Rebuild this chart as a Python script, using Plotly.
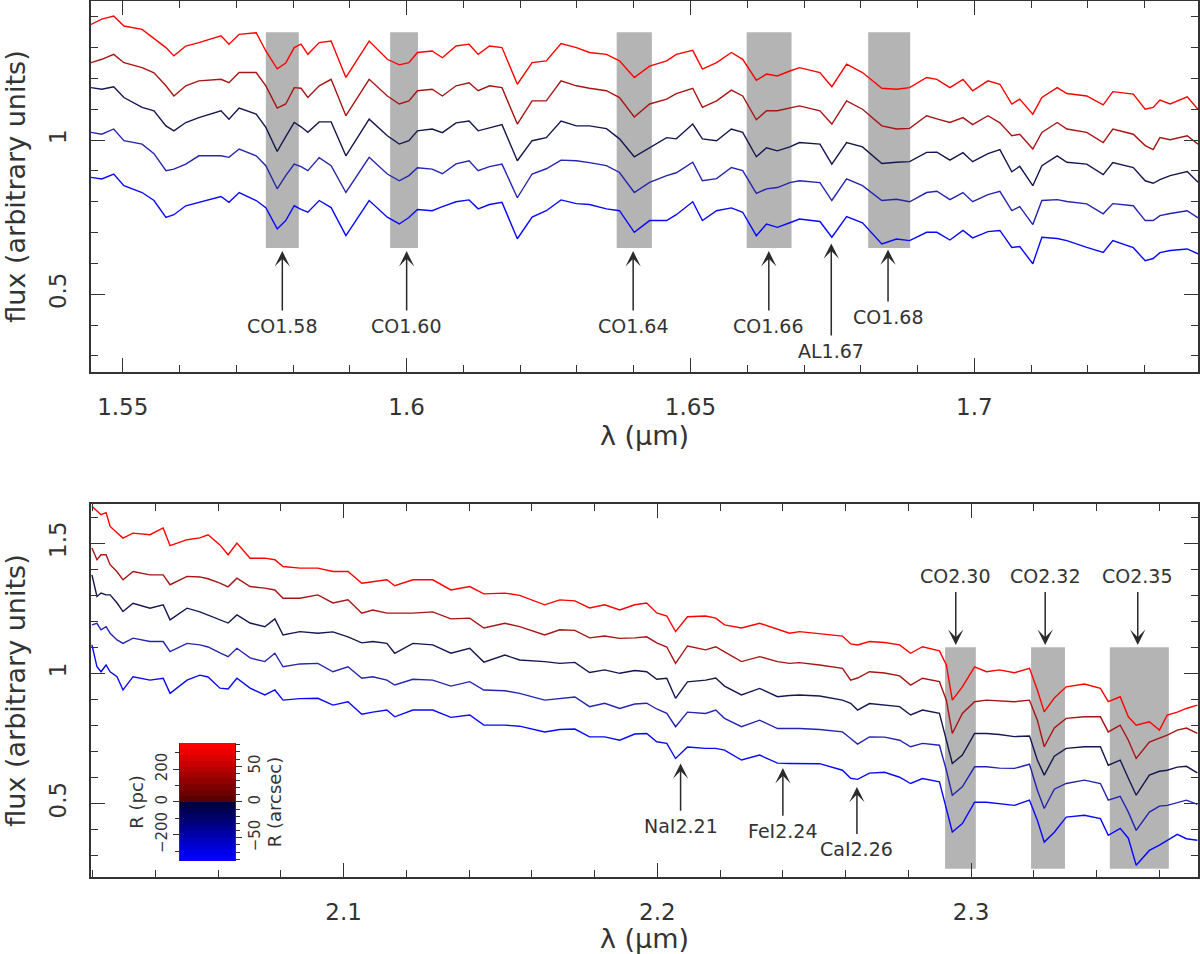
import plotly.graph_objects as go

FONT = "DejaVu Sans"
INK = "#333333"
ARROW = "#2a2a2a"
BAND_GRAY = "#b4b4b4"

# ---------------- H band (top panel) ----------------
wl_h = [1.5444, 1.5463, 1.5484, 1.5502, 1.5534, 1.5555, 1.5576, 1.5590, 1.5611, 1.5634,
        1.5673, 1.5687, 1.5705, 1.5735, 1.5752, 1.5772, 1.5787, 1.5802, 1.5814, 1.5826,
        1.5846, 1.5867, 1.5893, 1.5934, 1.5966, 1.5987, 1.6004, 1.6019, 1.6045, 1.6063,
        1.6087, 1.6110, 1.6126, 1.6146, 1.6168, 1.6195, 1.6221, 1.6246, 1.6272, 1.6299,
        1.6322, 1.6352, 1.6375, 1.6401, 1.6428, 1.6458, 1.6475, 1.6504, 1.6521, 1.6546,
        1.6572, 1.6592, 1.6616, 1.6634, 1.6653, 1.6675, 1.6692, 1.6728, 1.6749, 1.6775,
        1.6803, 1.6837, 1.6863, 1.6886, 1.6916, 1.6934, 1.6957, 1.6980, 1.6997, 1.7024,
        1.7045, 1.7066, 1.7080, 1.7103, 1.7119, 1.7146, 1.7163, 1.7198, 1.7227, 1.7244,
        1.7280, 1.7301, 1.7315, 1.7327, 1.7345, 1.7375, 1.7394]

h_red = [1.375, 1.392, 1.402, 1.370, 1.359, 1.331, 1.300, 1.273, 1.305, 1.316,
         1.338, 1.311, 1.343, 1.348, 1.289, 1.231, 1.250, 1.300, 1.311, 1.278,
         1.316, 1.321, 1.203, 1.321, 1.262, 1.244, 1.251, 1.284, 1.289, 1.267,
         1.305, 1.311, 1.278, 1.305, 1.300, 1.181, 1.251, 1.257, 1.313, 1.300,
         1.284, 1.278, 1.257, 1.203, 1.240, 1.257, 1.278, 1.291, 1.230, 1.251,
         1.284, 1.262, 1.194, 1.214, 1.208, 1.224, 1.235, 1.219, 1.173, 1.246,
         1.219, 1.168, 1.165, 1.170, 1.203, 1.197, 1.170, 1.197, 1.160, 1.192,
         1.181, 1.117, 1.133, 1.084, 1.138, 1.170, 1.151, 1.143, 1.114, 1.157,
         1.149, 1.100, 1.106, 1.130, 1.117, 1.140, 1.100]

h_darkred = [1.251, 1.262, 1.278, 1.251, 1.235, 1.218, 1.176, 1.143, 1.176, 1.192,
             1.197, 1.186, 1.219, 1.219, 1.176, 1.104, 1.117, 1.170, 1.168, 1.138,
             1.176, 1.197, 1.079, 1.197, 1.143, 1.117, 1.127, 1.160, 1.165, 1.143,
             1.176, 1.186, 1.160, 1.176, 1.170, 1.052, 1.127, 1.127, 1.192, 1.176,
             1.168, 1.160, 1.138, 1.075, 1.117, 1.133, 1.151, 1.168, 1.106, 1.127,
             1.162, 1.143, 1.066, 1.095, 1.095, 1.103, 1.111, 1.095, 1.052, 1.127,
             1.100, 1.046, 1.036, 1.038, 1.079, 1.069, 1.057, 1.073, 1.050, 1.079,
             1.056, 1.014, 1.019, 0.971, 1.025, 1.057, 1.036, 1.025, 0.992, 1.036,
             1.019, 0.982, 0.969, 1.008, 1.001, 1.014, 0.987]

h_navy = [1.170, 1.165, 1.173, 1.138, 1.106, 1.095, 1.046, 1.030, 1.057, 1.073,
          1.095, 1.068, 1.104, 1.084, 1.041, 0.963, 1.011, 1.057, 1.043, 1.025,
          1.059, 1.059, 0.949, 1.068, 1.014, 0.987, 0.998, 1.030, 1.036, 1.024,
          1.056, 1.062, 1.030, 1.040, 1.050, 0.933, 0.998, 1.008, 1.062, 1.046,
          1.046, 1.037, 1.004, 0.946, 0.976, 1.008, 1.004, 1.052, 1.004, 0.998,
          1.036, 1.025, 0.946, 0.975, 0.965, 0.978, 0.992, 0.987, 0.922, 0.992,
          0.978, 0.924, 0.928, 0.930, 0.960, 0.961, 0.935, 0.959, 0.930, 0.956,
          0.969, 0.897, 0.915, 0.852, 0.917, 0.949, 0.928, 0.922, 0.888, 0.927,
          0.911, 0.868, 0.860, 0.872, 0.885, 0.898, 0.863]

h_midblue = [1.025, 1.019, 1.036, 0.998, 0.987, 0.956, 0.901, 0.906, 0.922, 0.949,
             0.949, 0.944, 0.971, 0.949, 0.917, 0.842, 0.885, 0.922, 0.914, 0.901,
             0.943, 0.917, 0.830, 0.944, 0.890, 0.868, 0.885, 0.910, 0.906, 0.891,
             0.923, 0.933, 0.901, 0.914, 0.922, 0.813, 0.890, 0.907, 0.935, 0.933,
             0.927, 0.917, 0.895, 0.830, 0.863, 0.885, 0.894, 0.928, 0.868, 0.875,
             0.911, 0.901, 0.827, 0.842, 0.846, 0.862, 0.868, 0.862, 0.804, 0.874,
             0.852, 0.804, 0.808, 0.800, 0.830, 0.834, 0.807, 0.830, 0.800, 0.823,
             0.834, 0.771, 0.784, 0.726, 0.804, 0.807, 0.801, 0.793, 0.761, 0.794,
             0.787, 0.739, 0.739, 0.755, 0.762, 0.771, 0.748]

h_blue = [0.879, 0.874, 0.890, 0.852, 0.830, 0.804, 0.749, 0.758, 0.787, 0.798,
          0.817, 0.798, 0.830, 0.804, 0.781, 0.712, 0.739, 0.787, 0.775, 0.766,
          0.804, 0.781, 0.690, 0.804, 0.750, 0.728, 0.749, 0.775, 0.771, 0.784,
          0.800, 0.806, 0.777, 0.791, 0.798, 0.680, 0.750, 0.771, 0.806, 0.794,
          0.791, 0.777, 0.771, 0.701, 0.739, 0.739, 0.758, 0.800, 0.739, 0.771,
          0.780, 0.766, 0.690, 0.728, 0.717, 0.732, 0.744, 0.736, 0.685, 0.752,
          0.732, 0.663, 0.679, 0.674, 0.701, 0.701, 0.676, 0.707, 0.683, 0.703,
          0.707, 0.652, 0.655, 0.599, 0.685, 0.681, 0.674, 0.652, 0.636, 0.674,
          0.651, 0.609, 0.616, 0.635, 0.642, 0.647, 0.631]

# ---------------- K band (bottom panel) ----------------
wl_k = [2.0198, 2.0214, 2.0227, 2.0243, 2.0256, 2.0278, 2.0297, 2.0329, 2.0383, 2.0425,
        2.0447, 2.0501, 2.0542, 2.0568, 2.0606, 2.0632, 2.0660, 2.0702, 2.0749, 2.0781,
        2.0807, 2.0861, 2.0918, 2.0966, 2.1014, 2.1058, 2.1093, 2.1138, 2.1163, 2.1221,
        2.1284, 2.1342, 2.1402, 2.1447, 2.1514, 2.1561, 2.1641, 2.1689, 2.1737, 2.1784,
        2.1832, 2.1880, 2.1928, 2.1966, 2.1998, 2.2030, 2.2058, 2.2096, 2.2154, 2.2186,
        2.2214, 2.2268, 2.2326, 2.2383, 2.2421, 2.2453, 2.2517, 2.2590, 2.2616, 2.2638,
        2.2676, 2.2724, 2.2772, 2.2807, 2.2845, 2.2899, 2.2921, 2.2940, 2.2972, 2.3011,
        2.3049, 2.3090, 2.3138, 2.3186, 2.3211, 2.3233, 2.3265, 2.3303, 2.3361, 2.3412,
        2.3437, 2.3475, 2.3501, 2.3526, 2.3568, 2.3600, 2.3625, 2.3657, 2.3686, 2.3721]

k_red = [1.641, 1.622, 1.609, 1.617, 1.564, 1.540, 1.519, 1.538, 1.532, 1.558,
         1.490, 1.513, 1.520, 1.532, 1.493, 1.455, 1.500, 1.442, 1.442, 1.436,
         1.410, 1.404, 1.404, 1.391, 1.391, 1.346, 1.352, 1.359, 1.336, 1.359,
         1.359, 1.320, 1.333, 1.305, 1.308, 1.299, 1.263, 1.282, 1.278, 1.251,
         1.263, 1.243, 1.263, 1.270, 1.232, 1.220, 1.160, 1.217, 1.220, 1.212,
         1.186, 1.174, 1.192, 1.170, 1.154, 1.160, 1.151, 1.143, 1.113, 1.109,
         1.122, 1.118, 1.109, 1.077, 1.102, 1.086, 1.032, 0.897, 0.948, 1.025,
         1.006, 1.013, 1.002, 1.019, 0.936, 0.852, 0.905, 0.948, 0.959, 0.942,
         0.891, 0.910, 0.833, 0.801, 0.814, 0.782, 0.840, 0.851, 0.865, 0.878]

k_darkred = [1.481, 1.436, 1.455, 1.455, 1.417, 1.390, 1.359, 1.391, 1.378, 1.378,
             1.340, 1.372, 1.370, 1.363, 1.346, 1.332, 1.365, 1.333, 1.327, 1.320,
             1.288, 1.288, 1.301, 1.270, 1.282, 1.231, 1.243, 1.231, 1.231, 1.231,
             1.236, 1.209, 1.212, 1.174, 1.192, 1.179, 1.147, 1.167, 1.165, 1.136,
             1.143, 1.134, 1.136, 1.140, 1.117, 1.101, 1.038, 1.105, 1.090, 1.102,
             1.082, 1.045, 1.064, 1.045, 1.038, 1.041, 1.032, 1.019, 0.974, 0.982,
             1.006, 1.001, 0.990, 0.955, 0.981, 0.968, 0.897, 0.769, 0.846, 0.891,
             0.897, 0.893, 0.891, 0.897, 0.820, 0.718, 0.790, 0.827, 0.833, 0.833,
             0.775, 0.801, 0.743, 0.673, 0.736, 0.751, 0.763, 0.782, 0.790, 0.769]

k_navy = [1.378, 1.295, 1.308, 1.301, 1.301, 1.270, 1.237, 1.269, 1.250, 1.263,
          1.205, 1.250, 1.236, 1.224, 1.205, 1.193, 1.224, 1.193, 1.179, 1.209,
          1.147, 1.160, 1.154, 1.159, 1.140, 1.117, 1.122, 1.115, 1.077, 1.115,
          1.109, 1.077, 1.096, 1.043, 1.070, 1.051, 1.045, 1.038, 1.042, 1.003,
          1.013, 1.000, 1.011, 1.006, 0.977, 0.981, 0.904, 0.967, 0.974, 0.982,
          0.951, 0.917, 0.942, 0.910, 0.915, 0.917, 0.913, 0.897, 0.885, 0.859,
          0.884, 0.878, 0.872, 0.840, 0.859, 0.846, 0.743, 0.654, 0.686, 0.769,
          0.769, 0.765, 0.757, 0.759, 0.667, 0.609, 0.682, 0.712, 0.718, 0.718,
          0.647, 0.667, 0.597, 0.532, 0.609, 0.624, 0.628, 0.640, 0.643, 0.618]

k_midblue = [1.186, 1.192, 1.167, 1.179, 1.154, 1.128, 1.115, 1.135, 1.122, 1.122,
             1.083, 1.115, 1.109, 1.101, 1.078, 1.064, 1.096, 1.059, 1.045, 1.077,
             1.025, 1.036, 1.038, 1.006, 1.025, 0.981, 0.987, 0.974, 0.955, 0.977,
             0.974, 0.951, 0.968, 0.936, 0.933, 0.923, 0.897, 0.904, 0.909, 0.872,
             0.885, 0.865, 0.882, 0.885, 0.863, 0.846, 0.795, 0.851, 0.846, 0.859,
             0.827, 0.795, 0.820, 0.788, 0.788, 0.788, 0.784, 0.775, 0.750, 0.728,
             0.756, 0.755, 0.743, 0.718, 0.731, 0.724, 0.628, 0.532, 0.564, 0.641,
             0.641, 0.636, 0.635, 0.651, 0.551, 0.481, 0.555, 0.577, 0.590, 0.577,
             0.513, 0.528, 0.467, 0.397, 0.467, 0.490, 0.493, 0.505, 0.513, 0.497]

k_blue = [1.109, 1.025, 1.006, 1.032, 1.006, 0.987, 0.936, 0.987, 0.974, 0.981,
          0.923, 0.974, 0.993, 0.986, 0.943, 0.940, 0.981, 0.943, 0.917, 0.936,
          0.897, 0.903, 0.904, 0.878, 0.891, 0.843, 0.851, 0.859, 0.833, 0.859,
          0.859, 0.831, 0.840, 0.801, 0.801, 0.797, 0.775, 0.784, 0.786, 0.756,
          0.756, 0.743, 0.767, 0.769, 0.737, 0.731, 0.673, 0.717, 0.712, 0.712,
          0.705, 0.667, 0.686, 0.655, 0.654, 0.654, 0.653, 0.628, 0.597, 0.593,
          0.617, 0.620, 0.601, 0.577, 0.596, 0.583, 0.474, 0.391, 0.423, 0.505,
          0.505, 0.499, 0.493, 0.513, 0.436, 0.352, 0.390, 0.448, 0.455, 0.442,
          0.378, 0.405, 0.367, 0.263, 0.320, 0.340, 0.359, 0.382, 0.365, 0.359]

line_colors = ["#ff0000", "#a81414", "#161650", "#2424b0", "#0808ff"]
h_spectra = [h_red, h_darkred, h_navy, h_midblue, h_blue]
k_spectra = [k_red, k_darkred, k_navy, k_midblue, k_blue]

# CO bandhead windows
h_band_lo = [1.5752, 1.5971, 1.6370, 1.6599, 1.6813]
h_band_hi = [1.5810, 1.6020, 1.6432, 1.6678, 1.6887]
h_band_y = [0.65, 1.35]
k_band_lo = [2.2917, 2.3191, 2.3442]
k_band_hi = [2.3015, 2.3299, 2.3630]
k_band_y = [0.25, 1.10]

# line identifications: arrow tip and label height (flux units)
h_lines = ["CO1.58", "CO1.60", "CO1.64", "CO1.66", "AL1.67", "CO1.68"]
h_line_wl = [1.5781, 1.6000, 1.6399, 1.6638, 1.6748, 1.6848]
h_tip = [0.640, 0.640, 0.640, 0.640, 0.665, 0.645]
h_label_y = [0.397, 0.397, 0.397, 0.397, 0.316, 0.426]

k_lines = ["NaI2.21", "FeI2.24", "CaI2.26", "CO2.30", "CO2.32", "CO2.35"]
k_line_wl = [2.2074, 2.2400, 2.2636, 2.2951, 2.3236, 2.3531]
k_tip = [0.654, 0.636, 0.564, 1.109, 1.109, 1.109]
k_label_y = [0.413, 0.394, 0.324, 1.372, 1.372, 1.372]

h_ticks = [1.55, 1.6, 1.65, 1.7]
h_ticktext = ["1.55", "1.6", "1.65", "1.7"]
k_ticks = [2.1, 2.2, 2.3]
k_ticktext = ["2.1", "2.2", "2.3"]

# radius colour key
r_pc_edges = [-360, -324, -288, -252, -216, -180, -144, -108, -72, -36, 0,
              36, 72, 108, 144, 180, 216, 252, 288, 324, 360]
r_colors = ["#0000ff", "#0000e9", "#0000d3", "#0000be", "#0000a8",
            "#000093", "#00007d", "#000068", "#000052", "#00003c",
            "#5a0000", "#6c0000", "#7e0000", "#910000", "#a30000",
            "#b50000", "#c80000", "#da0000", "#ec0000", "#ff0000"]
r_arcsec_max = 82.5

fig = go.Figure()

for lo, hi in zip(h_band_lo, h_band_hi):
    fig.add_shape(type="rect", xref="x", yref="y", x0=lo, x1=hi,
                  y0=h_band_y[0], y1=h_band_y[1],
                  fillcolor=BAND_GRAY, line_width=0, layer="below")
for lo, hi in zip(k_band_lo, k_band_hi):
    fig.add_shape(type="rect", xref="x2", yref="y2", x0=lo, x1=hi,
                  y0=k_band_y[0], y1=k_band_y[1],
                  fillcolor=BAND_GRAY, line_width=0, layer="below")

for flux, col in zip(h_spectra, line_colors):
    fig.add_trace(go.Scatter(x=wl_h, y=flux, mode="lines", xaxis="x", yaxis="y",
                             line=dict(color=col, width=1.4),
                             showlegend=False, hoverinfo="skip"))
for flux, col in zip(k_spectra, line_colors):
    fig.add_trace(go.Scatter(x=wl_k, y=flux, mode="lines", xaxis="x2", yaxis="y2",
                             line=dict(color=col, width=1.4),
                             showlegend=False, hoverinfo="skip"))

# colour key as a banded heatmap
n_col = len(r_colors)
fig.add_trace(go.Heatmap(
    x=[0, 1], y=r_pc_edges, z=[[i] for i in range(n_col)],
    zmin=0, zmax=n_col - 1,
    colorscale=[[i / (n_col - 1), c] for i, c in enumerate(r_colors)],
    showscale=False, hoverinfo="skip", xaxis="x3", yaxis="y3"))
# invisible trace so the arcsec scale is drawn
fig.add_trace(go.Scatter(x=[0.5, 0.5], y=[-r_arcsec_max, r_arcsec_max],
                         mode="lines", line=dict(width=0), opacity=0,
                         showlegend=False, hoverinfo="skip",
                         xaxis="x3", yaxis="y4"))

label_font = dict(family=FONT, size=19, color=INK)
for name, wl, tip, ly in zip(h_lines, h_line_wl, h_tip, h_label_y):
    fig.add_annotation(x=wl, y=tip, ax=wl, ay=ly, xref="x", yref="y",
                       axref="x", ayref="y", text=name, showarrow=True,
                       arrowhead=3, arrowsize=1.7, arrowwidth=1.5,
                       arrowcolor=ARROW, font=label_font, borderpad=4)
for name, wl, tip, ly in zip(k_lines, k_line_wl, k_tip, k_label_y):
    fig.add_annotation(x=wl, y=tip, ax=wl, ay=ly, xref="x2", yref="y2",
                       axref="x2", ayref="y2", text=name, showarrow=True,
                       arrowhead=3, arrowsize=1.7, arrowwidth=1.5,
                       arrowcolor=ARROW, font=label_font, borderpad=4)

tick_font = dict(family=FONT, size=23, color=INK)
title_font = dict(family=FONT, size=27, color=INK)
frame = dict(showline=True, linecolor=INK, linewidth=1.5, mirror="allticks",
             ticks="inside", ticklen=14, tickwidth=1.3, tickcolor=INK,
             showgrid=False, zeroline=False, tickfont=tick_font,
             automargin=False)
small_font = dict(family=FONT, size=15, color=INK)
small_title = dict(family=FONT, size=18, color=INK)

fig.update_layout(
    width=1200, height=954,
    margin=dict(l=91, r=2, t=1, b=77),
    plot_bgcolor="white", paper_bgcolor="white",
    showlegend=False,
    xaxis=dict(frame, domain=[0, 1], anchor="y", range=[1.5444, 1.7394],
               tickmode="array", tickvals=h_ticks, ticktext=h_ticktext,
               minor=dict(dtick=0.01, tick0=1.55, ticks="inside", ticklen=7,
                          tickcolor=INK, tickwidth=1.3),
               ticklabelstandoff=14,
               title=dict(text="λ (μm)", font=title_font, standoff=6)),
    yaxis=dict(frame, domain=[0.5765, 1], anchor="x", range=[0.248, 1.451],
               dtick=0.5, tick0=0, tickangle=-90,
               minor=dict(dtick=0.1, tick0=0, ticks="inside", ticklen=7,
                          tickcolor=INK, tickwidth=1.3),
               ticklabelstandoff=14,
               title=dict(text="flux (arbitrary units)", font=title_font, standoff=26)),
    xaxis2=dict(frame, domain=[0, 1], anchor="y2", range=[2.0195, 2.3723],
                tickmode="array", tickvals=k_ticks, ticktext=k_ticktext,
                minor=dict(dtick=0.02, tick0=2.0, ticks="inside", ticklen=7,
                           tickcolor=INK, tickwidth=1.3),
                ticklabelstandoff=14,
                title=dict(text="λ (μm)", font=title_font, standoff=6)),
    yaxis2=dict(frame, domain=[0, 0.4258], anchor="x2", range=[0.218, 1.65],
                dtick=0.5, tick0=0, tickangle=-90,
                minor=dict(dtick=0.1, tick0=0, ticks="inside", ticklen=7,
                           tickcolor=INK, tickwidth=1.3),
                ticklabelstandoff=14,
                title=dict(text="flux (arbitrary units)", font=title_font, standoff=26)),
    xaxis3=dict(domain=[0.0804, 0.1301], anchor="y3", range=[0, 1], visible=False),
    yaxis3=dict(domain=[0.0183, 0.153], anchor="x3", range=[-360, 360],
                tickvals=[-200, 0, 200], tickangle=-90, ticks="outside",
                ticklen=6, tickcolor=INK, showline=True, linecolor=INK,
                linewidth=1, showgrid=False, zeroline=False, automargin=False,
                minor=dict(dtick=100, tick0=0, ticks="outside", ticklen=4,
                           tickcolor=INK),
                tickfont=small_font,
                title=dict(text="R (pc)", font=small_title, standoff=4)),
    yaxis4=dict(overlaying="y3", anchor="x3", side="right",
                range=[-r_arcsec_max, r_arcsec_max],
                tickvals=[-50, 0, 50], tickangle=-90, ticks="outside",
                ticklen=6, tickcolor=INK, showline=True, linecolor=INK,
                linewidth=1, showgrid=False, zeroline=False, automargin=False,
                minor=dict(dtick=10, tick0=0, ticks="outside", ticklen=4,
                           tickcolor=INK),
                tickfont=small_font,
                title=dict(text="R (arcsec)", font=small_title, standoff=4)),
)

# drop the browser's default page margin so the figure sits at the window origin
fig.write_html("out.html", config={"displayModeBar": False},
               post_script="document.body.style.margin='0';")
